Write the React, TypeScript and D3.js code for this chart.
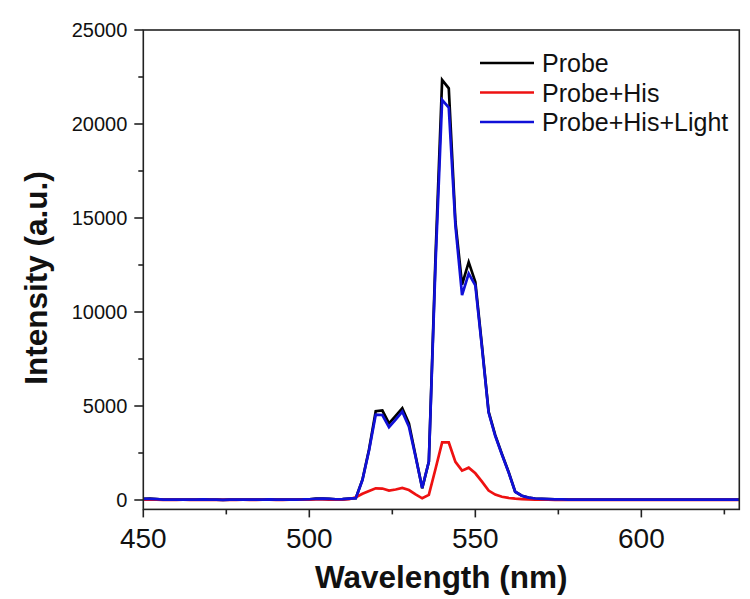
import React from "react";
import * as d3 from "d3";

const wavelengths = [
  450, 452, 454, 456, 458, 460, 462, 464, 466, 468, 470, 472, 474, 476, 478, 480,
  482, 484, 486, 488, 490, 492, 494, 496, 498, 500, 502, 504, 506, 508, 510, 512,
  514, 516, 518, 520, 522, 524, 526, 528, 530, 532, 534, 536, 538, 540, 542, 544,
  546, 548, 550, 552, 554, 556, 558, 560, 562, 564, 566, 568, 570, 572, 574, 576,
  578, 580, 582, 584, 586, 588, 590, 592, 594, 596, 598, 600, 602, 604, 606, 608,
  610, 612, 614, 616, 618, 620, 622, 624, 626, 628, 630,
];

const probe = [
  60, 70, 50, 20, 15, 15, 20, 15, 20, 30, 20, 15, 10, 20, 15, 20,
  15, 20, 25, 30, 20, 15, 20, 25, 30, 40, 70, 80, 60, 40, 50, 80,
  100, 1080, 2700, 4720, 4760, 4080, 4480, 4880, 4080, 2350, 620, 2040, 12900, 22340, 21900, 14800,
  11450, 12650, 11600, 8200, 4700, 3450, 2450, 1500, 440, 230, 130, 80, 60, 45, 35, 30,
  25, 25, 22, 20, 20, 22, 20, 18, 20, 22, 20, 20, 18, 20, 22, 20,
  20, 18, 20, 22, 20, 20, 18, 20, 20, 20, 20,
];

const probeHis = [
  20, 25, 15, 10, 10, 10, 12, 10, 10, 15, 10, 10, 8, 10, 10, 12,
  10, 10, 12, 15, 10, 10, 12, 12, 15, 20, 30, 35, 25, 20, 25, 40,
  150, 330, 480, 620, 610, 500, 560, 640, 530, 300, 90, 270, 1650, 3060, 3060, 2030,
  1560, 1720, 1420, 980, 500, 290, 170, 110, 70, 45, 30, 20, 15, 12, 10, 10,
  10, 10, 8, 8, 8, 8, 8, 8, 8, 8, 8, 8, 8, 8, 8, 8,
  8, 8, 8, 8, 8, 8, 8, 8, 8, 8, 8,
];

const probeHisLight = [
  55, 65, 45, 20, 15, 15, 18, 15, 20, 28, 20, 15, 10, 18, 15, 20,
  15, 18, 25, 28, 20, 15, 20, 25, 28, 40, 65, 75, 55, 40, 45, 75,
  95, 1060, 2650, 4540, 4520, 3870, 4280, 4700, 3900, 2300, 640, 2040, 12500, 21280, 20870, 14600,
  10900, 12040, 11420, 8100, 4650, 3400, 2420, 1480, 440, 230, 130, 80, 60, 45, 35, 30,
  25, 25, 22, 20, 20, 22, 20, 18, 20, 22, 20, 20, 18, 20, 22, 20,
  20, 18, 20, 22, 20, 20, 18, 20, 20, 20, 20,
];

const seriesNames = ["Probe", "Probe+His", "Probe+His+Light"];
const seriesColors = ["#000000", "#ee1111", "#1010d8"];
const xMajorTicks = [450, 500, 550, 600];
const xMinorTicks = [475, 525, 575, 625];
const yMajorTicks = [0, 5000, 10000, 15000, 20000, 25000];
const yMinorTicks = [2500, 7500, 12500, 17500, 22500];

const W = 750;
const H = 599;
const left = 143.3;
const right = 739.3;
const top = 30;
const bottom = 509.4;
const FONT = "'Liberation Sans', Arial, Helvetica, sans-serif";

export default function App() {
  const x = d3.scaleLinear().domain([450, 629.5]).range([left, right]);
  const y = d3.scaleLinear().domain([-500, 25000]).range([bottom, top]);
  const allSeries = [probe, probeHis, probeHisLight];
  const line = (vals: number[]) =>
    d3
      .line<number>()
      .x((_, i) => x(wavelengths[i]))
      .y((v) => y(v))(vals) as string;

  const axisColor = "#222";
  const legendRows = [63, 92.5, 122];

  return (
    <svg
      width={W}
      height={H}
      style={{ position: "absolute", left: 0, top: 0, background: "#fff" }}
      fontFamily={FONT}
    >
      <rect x={0} y={0} width={W} height={H} fill="#fff" />
      <defs>
        <clipPath id="plotclip">
          <rect x={left} y={top} width={right - left} height={bottom - top} />
        </clipPath>
      </defs>
      <g clipPath="url(#plotclip)">
        {allSeries.map((s, i) => (
          <path
            key={i}
            d={line(s)}
            fill="none"
            stroke={seriesColors[i]}
            strokeWidth={2.7}
            strokeLinejoin="miter"
          />
        ))}
      </g>
      <rect
        x={left}
        y={top}
        width={right - left}
        height={bottom - top}
        fill="none"
        stroke={axisColor}
        strokeWidth={1.6}
      />
      {yMajorTicks.map((t) => (
        <g key={"ym" + t}>
          <line x1={left - 9} x2={left} y1={y(t)} y2={y(t)} stroke={axisColor} strokeWidth={1.6} />
          <text
            x={left - 16}
            y={y(t)}
            dy="0.36em"
            textAnchor="end"
            fontSize={20}
            fill="#111"
          >
            {t}
          </text>
        </g>
      ))}
      {yMinorTicks.map((t) => (
        <line key={"yn" + t} x1={left - 5} x2={left} y1={y(t)} y2={y(t)} stroke={axisColor} strokeWidth={1.6} />
      ))}
      {xMajorTicks.map((t) => (
        <g key={"xm" + t}>
          <line x1={x(t)} x2={x(t)} y1={bottom} y2={bottom + 8} stroke={axisColor} strokeWidth={1.6} />
          <text x={x(t)} y={548} textAnchor="middle" fontSize={28} fill="#111">
            {t}
          </text>
        </g>
      ))}
      {xMinorTicks.map((t) => (
        <line key={"xn" + t} x1={x(t)} x2={x(t)} y1={bottom} y2={bottom + 5} stroke={axisColor} strokeWidth={1.6} />
      ))}
      <text
        x={(left + right) / 2}
        y={588}
        textAnchor="middle"
        fontSize={31.5}
        fontWeight="bold"
        fill="#111"
      >
        Wavelength (nm)
      </text>
      <text
        transform={`translate(47, 278) rotate(-90)`}
        textAnchor="middle"
        fontSize={31.5}
        fontWeight="bold"
        fill="#111"
      >
        Intensity (a.u.)
      </text>
      {seriesNames.map((name, i) => (
        <g key={name}>
          <line
            x1={480}
            x2={534}
            y1={legendRows[i]}
            y2={legendRows[i]}
            stroke={seriesColors[i]}
            strokeWidth={2.7}
          />
          <text x={542} y={legendRows[i]} dy="0.36em" fontSize={25} fill="#111">
            {name}
          </text>
        </g>
      ))}
    </svg>
  );
}
